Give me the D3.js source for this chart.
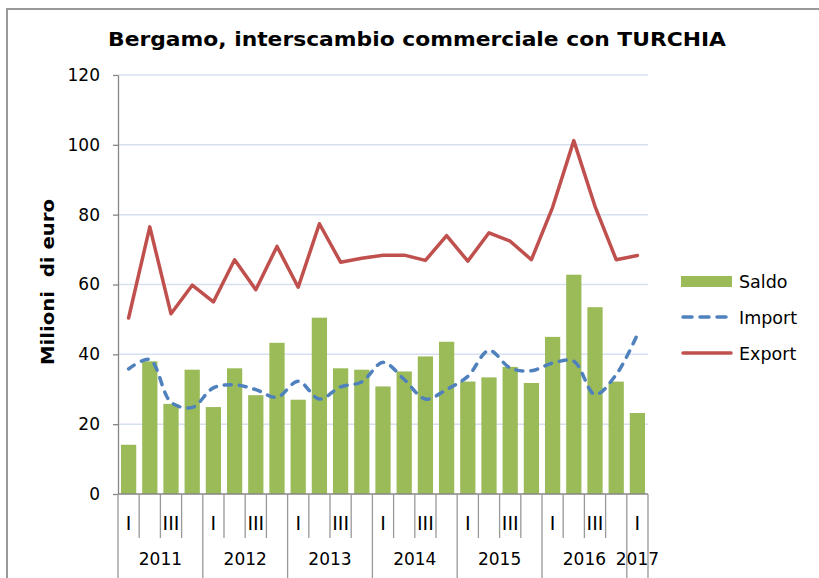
<!DOCTYPE html>
<html>
<head>
<meta charset="utf-8">
<script src="https://cdn.jsdelivr.net/npm/d3@7"></script>
<style>
  body { margin: 0; background: #fff; }
  text { font-family: "DejaVu Sans", Verdana, sans-serif; }
</style>
</head>
<body>
<div id="chart"></div>
<script>
// quarters 2011-I .. 2017-I
const years = ["2011", "2012", "2013", "2014", "2015", "2016", "2017"]
const quarterLabels = ["I", "", "III", ""]
const saldo = [14.1, 38.0, 25.8, 35.6, 24.9, 36.0, 28.3, 43.3, 27.0, 50.5, 36.0, 35.6, 30.8,
    35.1, 39.4, 43.6, 32.2, 33.4, 36.4, 31.8, 45.0, 62.8, 53.5, 32.2, 23.2]
const importVals = [35.8, 38.5, 26.3, 24.8, 30.4, 31.3, 29.9, 27.7, 32.3, 27.2, 30.7, 32.1, 37.7,
    32.8, 27.2, 29.9, 33.7, 41.1, 36.1, 35.3, 37.5, 38.0, 28.5, 34.2, 45.7]
const exportVals = [50.4, 76.5, 51.6, 59.8, 55.0, 67.1, 58.5, 70.9, 59.2, 77.4, 66.4, 67.5, 68.4,
    68.4, 66.9, 74.0, 66.7, 74.8, 72.4, 67.1, 82.1, 101.2, 82.4, 67.1, 68.3]
const yTicks = [0, 20, 40, 60, 80, 100, 120]

const width = 819, height = 578
const margin = { top: 75, right: 171, bottom: 84, left: 118 }

const data = saldo.map((s, i) => ({
    i: i,
    year: years[Math.floor(i / 4)],
    q: quarterLabels[i % 4],
    saldo: s,
    imp: importVals[i],
    exp: exportVals[i]
}))

const x = d3.scaleBand()
    .domain(d3.range(data.length))
    .range([margin.left, width - margin.right])
    .paddingInner(0.28)
    .paddingOuter(0.14)

const step = x.step()
const xc = i => x(i) + x.bandwidth() / 2

const y = d3.scaleLinear()
    .domain([0, 120])
    .range([height - margin.bottom, margin.top])

const svg = d3.select("#chart")
    .append("svg")
    .attr("width", width)
    .attr("height", height)

// outer frame
svg.append("path")
    .attr("d", `M7,${height}V9H${width}`)
    .attr("fill", "none")
    .attr("stroke", "#999")
    .attr("stroke-width", 2)

// gridlines
svg.append("g")
    .selectAll("line")
    .data(yTicks.filter(d => d > 0))
    .join("line")
    .attr("x1", margin.left)
    .attr("x2", width - margin.right)
    .attr("y1", d => y(d))
    .attr("y2", d => y(d))
    .attr("stroke", "#d6e0f0")
    .attr("stroke-width", 1.5)

// bars
svg.append("g")
    .attr("fill", "#9bbb59")
    .selectAll("rect")
    .data(data)
    .join("rect")
    .attr("x", d => x(d.i))
    .attr("y", d => y(d.saldo))
    .attr("width", x.bandwidth())
    .attr("height", d => y(0) - y(d.saldo))

// y axis
const yAxis = g => g
    .attr("transform", `translate(${margin.left},0)`)
    .call(d3.axisLeft(y).tickValues(yTicks).tickSize(5).tickSizeOuter(0).tickPadding(13))
    .call(g => g.selectAll("line, path").attr("stroke", "#868686").attr("stroke-width", 1.3))
    .call(g => g.selectAll("text")
        .attr("font-size", 17)
        .attr("font-family", "DejaVu Sans, Verdana, sans-serif")
        .attr("fill", "#000"))
svg.append("g").call(yAxis)

// x axis baseline and category ticks
const bounds = d3.range(data.length + 1).map(i => margin.left + i * step)
const xg = svg.append("g")
xg.append("line")
    .attr("x1", margin.left).attr("x2", width - margin.right)
    .attr("y1", y(0)).attr("y2", y(0))
    .attr("stroke", "#868686").attr("stroke-width", 1.3)
xg.selectAll("line.tick")
    .data(bounds)
    .join("line")
    .attr("class", "tick")
    .attr("x1", d => d).attr("x2", d => d)
    .attr("y1", y(0))
    .attr("y2", (d, i) => (i % 4 === 0 || i === data.length) ? height : 538)
    .attr("stroke", "#999").attr("stroke-width", 1.3)

// quarter labels
xg.selectAll("text.q")
    .data(data.filter(d => d.q))
    .join("text")
    .attr("class", "q")
    .attr("x", d => xc(d.i))
    .attr("y", 530)
    .attr("text-anchor", "middle")
    .attr("font-family", "Liberation Serif, Times New Roman, serif")
    .attr("font-size", 19)
    .text(d => d.q)

// year labels
const yearGroups = d3.groups(data, d => d.year)
xg.selectAll("text.yr")
    .data(yearGroups)
    .join("text")
    .attr("class", "yr")
    .attr("x", d => (x(d[1][0].i) + x(d[1][d[1].length - 1].i) + x.bandwidth()) / 2)
    .attr("y", 565)
    .attr("text-anchor", "middle")
    .attr("font-size", 17)
    .text(d => d[0])

// import line (smoothed, dashed)
svg.append("path")
    .datum(data)
    .attr("fill", "none")
    .attr("stroke", "#4f81bd")
    .attr("stroke-width", 3.5)
    .attr("stroke-linecap", "round")
    .attr("stroke-dasharray", "7,8")
    .attr("d", d3.line().x(d => xc(d.i)).y(d => y(d.imp)).curve(d3.curveCatmullRom.alpha(0.5)))

// export line
svg.append("path")
    .datum(data)
    .attr("fill", "none")
    .attr("stroke", "#c0504d")
    .attr("stroke-width", 3.5)
    .attr("stroke-linejoin", "round")
    .attr("stroke-linecap", "round")
    .attr("d", d3.line().x(d => xc(d.i)).y(d => y(d.exp)))

// legend
const legend = svg.append("g").attr("transform", "translate(681,0)")
legend.append("rect")
    .attr("x", 0).attr("y", 276).attr("width", 51).attr("height", 11)
    .attr("fill", "#9bbb59")
legend.append("line")
    .attr("x1", 2).attr("x2", 50).attr("y1", 317).attr("y2", 317)
    .attr("stroke", "#4f81bd").attr("stroke-width", 3.5)
    .attr("stroke-linecap", "round").attr("stroke-dasharray", "9,8")
legend.append("line")
    .attr("x1", 2).attr("x2", 50).attr("y1", 353).attr("y2", 353)
    .attr("stroke", "#c0504d").attr("stroke-width", 3.5)
    .attr("stroke-linecap", "round")
legend.selectAll("text")
    .data([["Saldo", 288], ["Import", 324], ["Export", 360]])
    .join("text")
    .attr("x", 58)
    .attr("y", d => d[1])
    .attr("font-size", 17.5)
    .text(d => d[0])

// y axis title
svg.append("text")
    .attr("transform", "translate(54,282) rotate(-90)")
    .attr("text-anchor", "middle")
    .attr("font-size", 18)
    .attr("font-weight", "bold")
    .attr("textLength", 166)
    .attr("lengthAdjust", "spacingAndGlyphs")
    .style("white-space", "pre")
    .text("Milioni  di euro")

// title
svg.append("text")
    .attr("x", 417)
    .attr("y", 46)
    .attr("text-anchor", "middle")
    .attr("font-size", 20)
    .attr("font-weight", "bold")
    .attr("textLength", 618)
    .attr("lengthAdjust", "spacingAndGlyphs")
    .text("Bergamo, interscambio commerciale con TURCHIA")
</script>
</body>
</html>
